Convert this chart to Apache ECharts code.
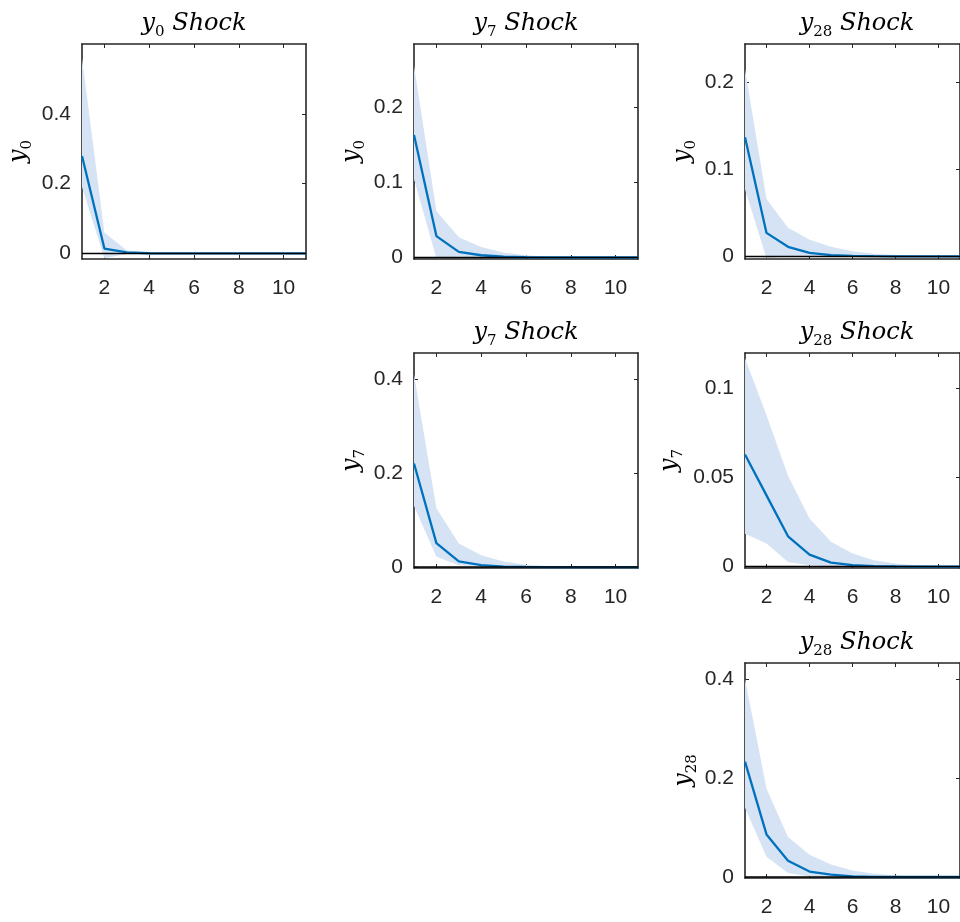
<!DOCTYPE html>
<html>
<head>
<meta charset="utf-8">
<script src="https://cdn.jsdelivr.net/npm/echarts@6/dist/echarts.min.js"></script>
<style>
html,body{margin:0;padding:0;background:#fff;}
#c{width:960px;height:922px;}
</style>
</head>
<body>
<div id="c"></div>
<script>
// ---------------- data ----------------
const periods = [1, 2, 3, 4, 5, 6, 7, 8, 9, 10, 11];
const xTickValues = [2, 4, 6, 8, 10];

// response of y0 to a y0 shock
const y0_y0Shock_irf = [0.279, 0.014, 0.003, 0.0005, 0, 0, 0, 0, 0, 0, 0];
const y0_y0Shock_hi  = [0.56, 0.06, 0.008, 0.001, 0, 0, 0, 0, 0, 0, 0];
const y0_y0Shock_lo  = [0.19, -0.014, -0.001, 0, 0, 0, 0, 0, 0, 0, 0];

// response of y0 to a y7 shock
const y0_y7Shock_irf = [0.163, 0.0285, 0.0075, 0.003, 0.001, 0.0003, 0, 0, 0, 0, 0];
const y0_y7Shock_hi  = [0.255, 0.062, 0.027, 0.014, 0.0066, 0.003, 0.001, 0.0004, 0, 0, 0];
const y0_y7Shock_lo  = [0.104, -0.001, 0.001, 0.0003, 0, 0, 0, 0, 0, 0, 0];

// response of y0 to a y28 shock
const y0_y28Shock_irf = [0.137, 0.027, 0.011, 0.004, 0.0015, 0.0005, 0.0002, 0, 0, 0, 0];
const y0_y28Shock_hi  = [0.215, 0.066, 0.033, 0.019, 0.011, 0.006, 0.003, 0.0015, 0.0006, 0.0002, 0];
const y0_y28Shock_lo  = [0.077, -0.002, 0.0005, 0.0002, 0, 0, 0, 0, 0, 0, 0];

// response of y7 to a y7 shock
const y7_y7Shock_irf = [0.22, 0.051, 0.012, 0.004, 0.001, 0.0003, 0, 0, 0, 0, 0];
const y7_y7Shock_hi  = [0.41, 0.125, 0.05, 0.025, 0.012, 0.005, 0.002, 0.001, 0, 0, 0];
const y7_y7Shock_lo  = [0.13, 0.022, 0.004, 0.001, 0, 0, 0, 0, 0, 0, 0];

// response of y7 to a y28 shock
const y7_y28Shock_irf = [0.063, 0.040, 0.017, 0.0067, 0.0022, 0.0008, 0.0003, 0.0001, 0, 0, 0];
const y7_y28Shock_hi  = [0.117, 0.085, 0.051, 0.027, 0.014, 0.0073, 0.0036, 0.0017, 0.0007, 0.0003, 0.0001];
const y7_y28Shock_lo  = [0.0185, 0.013, 0.0026, 0.0007, 0.0002, 0, 0, 0, 0, 0, 0];

// response of y28 to a y28 shock
const y28_y28Shock_irf = [0.233, 0.086, 0.033, 0.011, 0.0047, 0.001, 0.0003, 0, 0, 0, 0];
const y28_y28Shock_hi  = [0.40, 0.178, 0.081, 0.045, 0.025, 0.013, 0.0067, 0.003, 0.001, 0.0004, 0];
const y28_y28Shock_lo  = [0.14, 0.041, 0.008, 0.001, 0, 0, 0, 0, 0, 0, 0];

// y tick labels per panel
const yTicks_y0_y0Shock   = [0, 0.2, 0.4];
const yTicks_y0_y7Shock   = [0, 0.1, 0.2];
const yTicks_y0_y28Shock  = [0, 0.1, 0.2];
const yTicks_y7_y7Shock   = [0, 0.2, 0.4];
const yTicks_y7_y28Shock  = [0, 0.05, 0.1];
const yTicks_y28_y28Shock = [0, 0.2, 0.4];

// ---------------- layout ----------------
const panels = [
  {row:0, col:0, shock:'0',  resp:'0',  irf:y0_y0Shock_irf,  hi:y0_y0Shock_hi,  lo:y0_y0Shock_lo,  ticks:yTicks_y0_y0Shock,  ymin:-0.016, ymax:0.6,   lblGap:63},
  {row:0, col:1, shock:'7',  resp:'0',  irf:y0_y7Shock_irf,  hi:y0_y7Shock_hi,  lo:y0_y7Shock_lo,  ticks:yTicks_y0_y7Shock,  ymin:-0.002, ymax:0.284, lblGap:62},
  {row:0, col:2, shock:'28', resp:'0',  irf:y0_y28Shock_irf, hi:y0_y28Shock_hi, lo:y0_y28Shock_lo, ticks:yTicks_y0_y28Shock, ymin:-0.003, ymax:0.244, lblGap:62},
  {row:1, col:1, shock:'7',  resp:'7',  irf:y7_y7Shock_irf,  hi:y7_y7Shock_hi,  lo:y7_y7Shock_lo,  ticks:yTicks_y7_y7Shock,  ymin:-0.002, ymax:0.455, lblGap:62},
  {row:1, col:2, shock:'28', resp:'7',  irf:y7_y28Shock_irf, hi:y7_y28Shock_hi, lo:y7_y28Shock_lo, ticks:yTicks_y7_y28Shock, ymin:-0.0008, ymax:0.12, lblGap:75},
  {row:2, col:2, shock:'28', resp:'28', irf:y28_y28Shock_irf,hi:y28_y28Shock_hi,lo:y28_y28Shock_lo,ticks:yTicks_y28_y28Shock,ymin:-0.002, ymax:0.432, lblGap:61}
];

const colLeft = [82, 414, 745];
const rowTop = [44, 353, 663];
const W = 224, H = 215;
const AX = '#262626';
const LINE = '#0072BD';
const BAND = '#d5e3f5';
const tickFont = {color: AX, fontFamily: '"Liberation Sans", Arial, sans-serif', fontSize: 21};

const subRich = {
  i: {fontFamily: '"DejaVu Serif", serif', fontStyle: 'italic', fontSize: 24, lineHeight: 32, color: '#000', verticalAlign: 'middle'},
  s: {fontFamily: '"DejaVu Serif", serif', fontStyle: 'normal', fontSize: 15, lineHeight: 32, color: '#000', verticalAlign: 'bottom'}
};

const grid = [], xAxis = [], yAxis = [], series = [], graphic = [];

panels.forEach((p, k) => {
  const left = colLeft[p.col], top = rowTop[p.row];
  grid.push({left: left, top: top, width: W, height: H, show: false, containLabel: false});
  const axLine = {show: true, onZero: false, lineStyle: {color: AX, width: 1.6}};
  xAxis.push({type: 'value', gridIndex: k, min: 1, max: 11, position: 'bottom',
    axisLine: axLine, splitLine: {show: false},
    axisTick: {show: true, inside: true, length: 4, customValues: xTickValues, lineStyle: {color: AX, width: 1}},
    axisLabel: {show: true, customValues: xTickValues, margin: 19, ...tickFont}});
  xAxis.push({type: 'value', gridIndex: k, min: 1, max: 11, position: 'top',
    axisLine: axLine, splitLine: {show: false},
    axisTick: {show: true, inside: true, length: 4, customValues: xTickValues, lineStyle: {color: AX, width: 1}},
    axisLabel: {show: false}});
  yAxis.push({type: 'value', gridIndex: k, min: p.ymin, max: p.ymax, position: 'left',
    axisLine: axLine, splitLine: {show: false},
    axisTick: {show: true, inside: true, length: 4, customValues: p.ticks, lineStyle: {color: AX, width: 1}},
    axisLabel: {show: true, customValues: p.ticks, margin: 11, ...tickFont,
      formatter: v => (Math.abs(v) < 1e-12 ? '0' : String(+v.toFixed(4)))}});
  yAxis.push({type: 'value', gridIndex: k, min: p.ymin, max: p.ymax, position: 'right',
    axisLine: axLine, splitLine: {show: false},
    axisTick: {show: true, inside: true, length: 4, customValues: p.ticks, lineStyle: {color: AX, width: 1}},
    axisLabel: {show: false}});

  const xi = 2 * k, yi = 2 * k;
  // confidence band as a polygon through the axis scales
  series.push({type: 'custom', xAxisIndex: xi, yAxisIndex: yi, silent: true, z: 1,
    data: periods.map((x, i) => [x, p.lo[i], p.hi[i]]),
    encode: {x: 0, y: [1, 2]},
    renderItem: function (params, api) {
      if (params.dataIndex !== 0) return null;
      const upper = periods.map((x, i) => api.coord([x, p.hi[i]]));
      const lower = periods.map((x, i) => api.coord([x, p.lo[i]])).reverse();
      const cs = params.coordSys;
      return {type: 'polygon', shape: {points: upper.concat(lower)},
        style: {fill: BAND, stroke: null},
        clipPath: {type: 'rect', shape: {x: cs.x, y: cs.y, width: cs.width, height: cs.height}}};
    }});
  series.push({type: 'line', xAxisIndex: xi, yAxisIndex: yi,
    data: periods.map((x, i) => [x, p.irf[i]]), symbol: 'none', silent: true,
    lineStyle: {color: LINE, width: 2.3}, z: 3});
  series.push({type: 'line', xAxisIndex: xi, yAxisIndex: yi,
    data: periods.map(x => [x, 0]), symbol: 'none', silent: true,
    lineStyle: {color: '#000', width: 1.5}, z: 4});

  graphic.push({type: 'text', x: left + W / 2, y: top - 20, z: 10,
    style: {text: '{i|y}{s|' + p.shock + '}{i| Shock}', rich: subRich,
      align: 'center', textAlign: 'center', verticalAlign: 'middle', textVerticalAlign: 'middle'}});
  graphic.push({type: 'text', x: left - p.lblGap, y: top + H / 2, rotation: Math.PI / 2, z: 10,
    style: {text: '{i|y}{s|' + p.resp + '}', rich: subRich,
      align: 'center', textAlign: 'center', verticalAlign: 'middle', textVerticalAlign: 'middle'}});
});

const chart = echarts.init(document.getElementById('c'), null, {renderer: 'canvas'});
chart.setOption({
  backgroundColor: '#fff',
  animation: false,
  grid, xAxis, yAxis, series, graphic
});
</script>
</body>
</html>
